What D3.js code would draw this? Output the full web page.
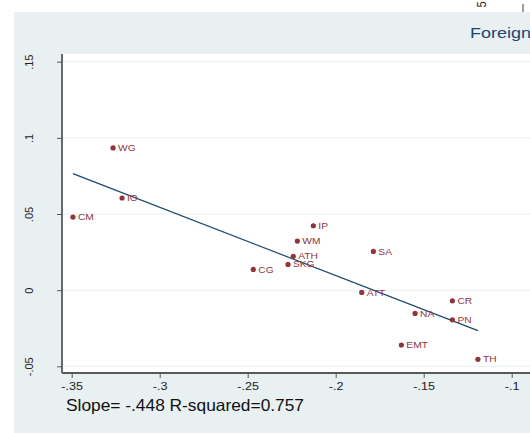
<!DOCTYPE html>
<html>
<head>
<meta charset="utf-8">
<script src="https://cdn.jsdelivr.net/npm/d3@7"></script>
<style>
  body { margin: 0; background: #fff; }
  svg { display: block; font-family: "Liberation Sans", Arial, sans-serif; }
</style>
</head>
<body>
<div id="chart"></div>
<script>
// region codes, x = horizontal value, y = vertical value
var codes = ["WG", "IO", "CM", "IP", "WM", "ATH", "SKG", "CG", "SA", "ATT", "CR", "NA", "PN", "EMT", "TH"];
var xVals = [-0.3265, -0.3214, -0.3493, -0.2127, -0.2218, -0.2241, -0.2271, -0.2468, -0.1786, -0.1852, -0.1337, -0.1549, -0.1337, -0.1627, -0.1192];
var yVals = [0.0934, 0.0605, 0.0480, 0.0423, 0.0322, 0.0222, 0.0169, 0.0136, 0.0254, -0.0015, -0.0070, -0.0153, -0.0195, -0.0360, -0.0454];
var xTicks = [-0.35, -0.3, -0.25, -0.2, -0.15, -0.1];
var yTicks = [-0.05, 0, 0.05, 0.1, 0.15];
var fitSlope = -0.448, fitIntercept = -0.0800;
var noteText = "Slope= -.448 R-squared=0.757";

var W = 530, H = 433;
var bg = "#e8f0f2", dotCol = "#90353b", lineCol = "#1a476f", axisCol = "#5a5a5a";
var stretch = "scale(1.2,1)";   // the picture is a bit wider than tall

var svg = d3.select("#chart").append("svg")
    .attr("width", W)
    .attr("height", H);

svg.append("rect").attr("width", W).attr("height", H).attr("fill", "#fff");

// remnant of the neighbouring panel (top right)
svg.append("text")
    .attr("transform", "translate(485.5,1.5) rotate(-90) scale(1,1.2)")
    .attr("text-anchor", "end")
    .attr("font-size", 11)
    .attr("fill", "#222")
    .text("5");
svg.append("line")
    .attr("x1", 523).attr("x2", 523).attr("y1", 4).attr("y2", 12)
    .attr("stroke", axisCol).attr("stroke-width", 1.2);

svg.append("rect")
    .attr("x", 14).attr("y", 12)
    .attr("width", W - 14).attr("height", H - 12)
    .attr("fill", bg);

svg.append("text")
    .attr("transform", "translate(470,38) " + stretch)
    .attr("font-size", 15)
    .attr("fill", lineCol)
    .text("Foreign");

var plotL = 62, plotT = 54, plotB = 373;
svg.append("rect")
    .attr("x", plotL).attr("y", plotT)
    .attr("width", W - plotL).attr("height", plotB - plotT)
    .attr("fill", "#fff");

var x = d3.scaleLinear().domain([-0.35, -0.1]).range([71.7, 511.7]);
var y = d3.scaleLinear().domain([-0.05, 0.15]).range([366.3, 61.7]);

// Stata style: no leading zero, plain hyphen
var fmt = function(v) {
  var s = String(+v.toFixed(2));
  return s.replace(/^(-?)0\./, "$1.");
};

// grid lines
svg.append("g").selectAll("line")
  .data(yTicks)
  .join("line")
    .attr("x1", plotL).attr("x2", W)
    .attr("y1", d => y(d)).attr("y2", d => y(d))
    .attr("stroke", bg).attr("stroke-width", 1);

// fitted line over the range of the data
var xr = d3.extent(xVals);
svg.append("path")
    .datum(xr)
    .attr("d", d3.line().x(d => x(d)).y(d => y(fitIntercept + fitSlope * d)))
    .attr("fill", "none")
    .attr("stroke", lineCol)
    .attr("stroke-width", 1.2);

var pts = codes.map((c, i) => ({ code: c, x: xVals[i], y: yVals[i] }));

svg.append("g").selectAll("circle")
  .data(pts)
  .join("circle")
    .attr("cx", d => x(d.x))
    .attr("cy", d => y(d.y))
    .attr("r", 2.6)
    .attr("fill", dotCol);

svg.append("g").selectAll("text")
  .data(pts)
  .join("text")
    .attr("transform", d => "translate(" + (x(d.x) + 5) + "," + y(d.y) + ") " + stretch)
    .attr("dy", "0.36em")
    .attr("font-size", 8.5)
    .attr("fill", dotCol)
    .text(d => d.code);

// axes
var yAxis = svg.append("g")
    .attr("transform", "translate(" + plotL + ",0)")
    .call(d3.axisLeft(y).tickValues(yTicks).tickFormat(fmt).tickSize(5));
yAxis.select(".domain").remove();
yAxis.selectAll("line").attr("stroke", axisCol);
yAxis.selectAll("text")
    .attr("x", null).attr("dy", null)
    .attr("text-anchor", "middle")
    .attr("transform", "translate(-29,0) rotate(-90)")
    .attr("font-size", 11)
    .attr("font-family", "Liberation Sans, Arial, sans-serif")
    .attr("fill", "#222");

var xAxis = svg.append("g")
    .attr("transform", "translate(0," + plotB + ")")
    .call(d3.axisBottom(x).tickValues(xTicks).tickFormat(fmt).tickSize(5).tickPadding(5));
xAxis.select(".domain").remove();
xAxis.selectAll("line").attr("stroke", axisCol);
xAxis.selectAll("text")
    .attr("transform", stretch)
    .attr("font-size", 10.5)
    .attr("font-family", "Liberation Sans, Arial, sans-serif")
    .attr("fill", "#222");

svg.append("line")
    .attr("x1", plotL).attr("x2", plotL)
    .attr("y1", plotT).attr("y2", plotB)
    .attr("stroke", axisCol).attr("stroke-width", 1.8);
svg.append("line")
    .attr("x1", plotL).attr("x2", W)
    .attr("y1", plotB).attr("y2", plotB)
    .attr("stroke", axisCol).attr("stroke-width", 1.8);

svg.append("text")
    .attr("x", 66).attr("y", 411)
    .attr("font-size", 16.5)
    .attr("textLength", 238)
    .attr("lengthAdjust", "spacingAndGlyphs")
    .attr("fill", "#111")
    .text(noteText);
</script>
</body>
</html>
